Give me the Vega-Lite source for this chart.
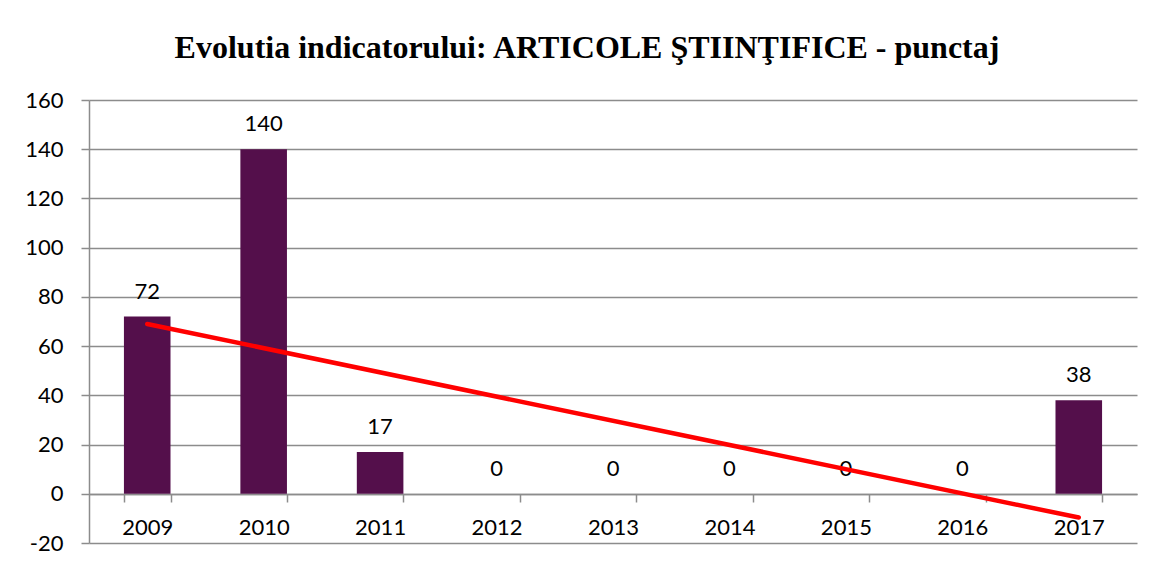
{
  "$schema": "https://vega.github.io/schema/vega-lite/v6.json",
  "autosize": "none",
  "width": 1048,
  "height": 443,
  "padding": {"left": 89, "top": 100, "right": 19, "bottom": 23},
  "background": "white",
  "title": {
    "text": "Evolutia indicatorului: ARTICOLE ŞTIINŢIFICE - punctaj",
    "font": "Liberation Serif",
    "fontSize": 32,
    "fontWeight": "bold",
    "color": "black",
    "anchor": "middle",
    "offset": 24,
    "dx": -26
  },
  "data": {
    "values": [
      {"year": 2009, "v": 72},
      {"year": 2010, "v": 140},
      {"year": 2011, "v": 17},
      {"year": 2012, "v": 0},
      {"year": 2013, "v": 0},
      {"year": 2014, "v": 0},
      {"year": 2015, "v": 0},
      {"year": 2016, "v": 0},
      {"year": 2017, "v": 38}
    ]
  },
  "config": {
    "view": {"stroke": null},
    "axis": {
      "labelFont": "Lato",
      "labelFontSize": 22,
      "labelColor": "black",
      "domainColor": "#8c8c8c",
      "tickColor": "#8c8c8c",
      "gridColor": "#8c8c8c",
      "domainWidth": 1.5,
      "tickWidth": 1.5,
      "gridWidth": 1.5
    }
  },
  "layer": [
    {
      "mark": {"type": "bar", "color": "#540F4B"},
      "encoding": {
        "x": {
          "field": "year",
          "type": "ordinal",
          "scale": {"paddingInner": 0.6, "paddingOuter": 0.3},
          "axis": {
            "title": null,
            "labelAngle": 0,
            "offset": -49,
            "tickBand": "extent",
            "tickSize": 8,
            "labelPadding": 15,
            "grid": false
          }
        },
        "y": {
          "field": "v",
          "type": "quantitative",
          "scale": {"domain": [-20, 160], "nice": false, "zero": false},
          "axis": {
            "title": null,
            "values": [-20, 0, 20, 40, 60, 80, 100, 120, 140, 160],
            "labelExpr": "toString(datum.value)",
            "tickSize": 8,
            "labelPadding": 18,
            "grid": true
          }
        }
      }
    },
    {
      "mark": {"type": "text", "font": "Lato", "fontSize": 22, "color": "black", "baseline": "alphabetic", "dy": -18},
      "encoding": {
        "x": {"field": "year", "type": "ordinal"},
        "y": {"field": "v", "type": "quantitative"},
        "text": {"field": "v", "type": "quantitative"}
      }
    },
    {
      "transform": [{"regression": "v", "on": "year"}],
      "mark": {"type": "line", "color": "#FF0000", "strokeWidth": 4.5, "strokeCap": "round"},
      "encoding": {
        "x": {"field": "year", "type": "ordinal"},
        "y": {"field": "v", "type": "quantitative"}
      }
    }
  ]
}
